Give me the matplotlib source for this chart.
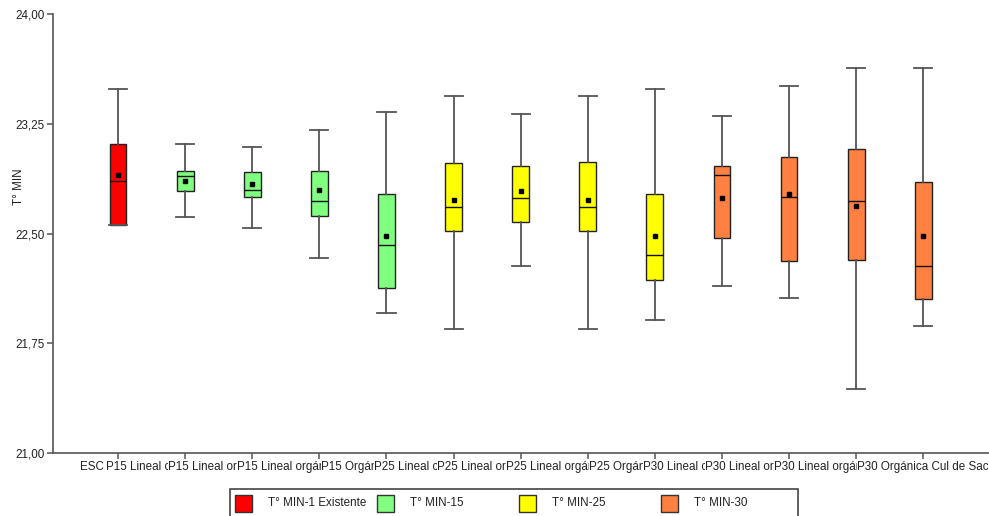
import matplotlib
matplotlib.use('Agg')
import matplotlib.pyplot as plt
from matplotlib.patches import Rectangle
from matplotlib.ticker import FuncFormatter

plt.rcParams['font.family'] = ['Liberation Sans', 'DejaVu Sans']

# one entry per box (the chart draws each label over the tail of the one before)
labels = ['ESC Existente',
          'P15 Lineal cerrada Cul de Sac', 'P15 Lineal ortogonal Cul de Sac',
          'P15 Lineal orgánica Cul de Sac', 'P15 Orgánica Cul de Sac',
          'P25 Lineal cerrada Cul de Sac', 'P25 Lineal ortogonal Cul de Sac',
          'P25 Lineal orgánica Cul de Sac', 'P25 Orgánica Cul de Sac',
          'P30 Lineal cerrada Cul de Sac', 'P30 Lineal ortogonal Cul de Sac',
          'P30 Lineal orgánica Cul de Sac', 'P30 Orgánica Cul de Sac']
group  = ['T° MIN-1 Existente'] + ['T° MIN-15'] * 4 + ['T° MIN-25'] * 4 + ['T° MIN-30'] * 4
whislo = [22.56, 22.61, 22.54, 22.33, 21.96, 21.85, 22.28, 21.85, 21.91, 22.14, 22.06, 21.44, 21.87]
q1     = [22.56, 22.79, 22.75, 22.62, 22.13, 22.52, 22.58, 22.52, 22.18, 22.47, 22.31, 22.32, 22.05]
med    = [22.86, 22.89, 22.80, 22.72, 22.42, 22.68, 22.74, 22.68, 22.35, 22.90, 22.75, 22.72, 22.28]
mean   = [22.90, 22.86, 22.84, 22.80, 22.48, 22.73, 22.79, 22.73, 22.48, 22.74, 22.77, 22.69, 22.48]
q3     = [23.11, 22.93, 22.92, 22.93, 22.77, 22.98, 22.96, 22.99, 22.77, 22.96, 23.02, 23.08, 22.85]
whishi = [23.49, 23.11, 23.09, 23.21, 23.33, 23.44, 23.32, 23.44, 23.49, 23.30, 23.51, 23.63, 23.63]

legend_names = ['T° MIN-1 Existente', 'T° MIN-15', 'T° MIN-25', 'T° MIN-30']
colors = {'T° MIN-1 Existente': '#ff0000', 'T° MIN-15': '#80ff80',
          'T° MIN-25': '#ffff00', 'T° MIN-30': '#ff8040'}
yticks = [21.00, 21.75, 22.50, 23.25, 24.00]

W, H = 989, 516
fig = plt.figure(figsize=(W / 100, H / 100), dpi=100)
ax = fig.add_axes([53 / W, 63 / H, (W - 53) / W, 439 / H])

stats = [dict(whislo=whislo[i], q1=q1[i], med=med[i], mean=mean[i], q3=q3[i],
              whishi=whishi[i], fliers=[]) for i in range(len(labels))]
pos = list(range(1, len(labels) + 1))
bp = ax.bxp(stats, positions=pos, widths=0.25, capwidths=0.27, patch_artist=True,
            showmeans=True, showfliers=False,
            boxprops=dict(edgecolor='#222222', linewidth=1.0),
            medianprops=dict(color='#111111', linewidth=1.0),
            whiskerprops=dict(color='#555555', linewidth=1.3),
            capprops=dict(color='#555555', linewidth=1.3),
            meanprops=dict(marker='s', markerfacecolor='black', markeredgecolor='black',
                           markersize=3.5))
for patch, g in zip(bp['boxes'], group):
    patch.set_facecolor(colors[g])

ax.set_xlim(0.03, len(labels) + 0.98)
ax.set_ylim(21, 24)
ax.set_yticks(yticks)
ax.yaxis.set_major_formatter(FuncFormatter(lambda v, p: f'{v:.2f}'.replace('.', ',')))
ax.set_xticks(pos)
ax.set_xticklabels(labels)
for lbl in ax.get_xticklabels():
    lbl.set_bbox(dict(facecolor='white', edgecolor='none', pad=0))

for s in ['top', 'right']:
    ax.spines[s].set_visible(False)
for s in ['left', 'bottom']:
    ax.spines[s].set_color('#555555')
    ax.spines[s].set_linewidth(1.2)
ax.tick_params(axis='both', length=4, width=1.1, color='#555555', labelsize=8.4,
               labelcolor='#222222')
ax.tick_params(axis='x', pad=2)
ax.tick_params(axis='y', pad=2)

fig.text(19 / W, 1 - 187 / H, 'T° MIN', rotation=90, ha='center', va='center',
         fontsize=8.4, color='#222222')

# legend box along the bottom edge
fig.add_artist(Rectangle((230 / W, -0.02), 568 / W, (H - 489) / H + 0.02,
                         transform=fig.transFigure, facecolor='white',
                         edgecolor='#444444', linewidth=1.2))
for i, name in enumerate(legend_names):
    x0 = 235 + i * 142
    fig.add_artist(Rectangle((x0 / W, 1 - 512 / H), 17 / W, 17 / H,
                             transform=fig.transFigure, facecolor=colors[name],
                             edgecolor='#333333', linewidth=1.0))
    fig.text((x0 + 33) / W, 1 - 503.5 / H, name, ha='left', va='center',
             fontsize=8.4, color='#222222')

fig.savefig('out.png', dpi=100)
